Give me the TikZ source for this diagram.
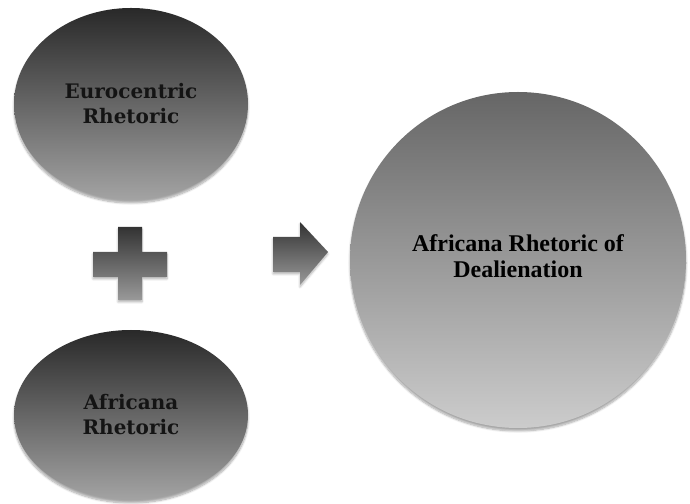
\documentclass[tikz,border=0pt]{standalone}
\usepackage{fontspec}
\setmainfont{DejaVu Serif}
\newfontfamily\timesb{Liberation Serif}[BoldFont={* Bold}]
\usetikzlibrary{shapes.geometric,shadows.blur}
\tikzset{
  oval/.style={ellipse, inner sep=0pt, align=center, top color=black!84, bottom color=black!36,
    blur shadow={shadow xshift=0pt, shadow yshift=-3pt, shadow blur steps=8, shadow opacity=35},
    font=\bfseries\fontsize{20}{25}\selectfont, text=black!92},
  bigcirc/.style={circle, inner sep=0pt, minimum size=336pt, align=center, top color=black!60, bottom color=black!20,
    blur shadow={shadow xshift=0pt, shadow yshift=-3pt, shadow blur steps=8, shadow opacity=35},
    font=\timesb\bfseries\fontsize{24}{25.5}\selectfont, text=black},
  symb/.style={top color=black!80, bottom color=black!40, draw=none,
    blur shadow={shadow xshift=0pt, shadow yshift=-2pt, shadow blur steps=6, shadow opacity=30}}
}
\begin{document}
\begin{tikzpicture}[x=1pt,y=1pt]
\useasboundingbox (0,0) rectangle (690,503);
\node[oval, minimum width=234pt, minimum height=192pt] (euro) at (131,399) {Eurocentric\\Rhetoric};
\node[oval, minimum width=234pt, minimum height=170pt] (afr) at (131,88) {Africana\\Rhetoric};
\node[bigcirc] (deal) at (518,243) {};
\node[font=\timesb\bfseries\fontsize{24}{25.5}\selectfont, align=center] (dealtext) at ([yshift=4pt]deal.center) {Africana Rhetoric of\\Dealienation};
% plus sign
\path[symb] (118,203) -- (142,203) -- (142,226) -- (167,226) -- (167,251) -- (142,251) -- (142,276) -- (118,276) -- (118,251) -- (93,251) -- (93,226) -- (118,226) -- cycle;
% arrow
\path[symb] (273,231) -- (300,231) -- (300,218) -- (328,251) -- (300,281) -- (300,266) -- (273,266) -- cycle;
\end{tikzpicture}
\end{document}
